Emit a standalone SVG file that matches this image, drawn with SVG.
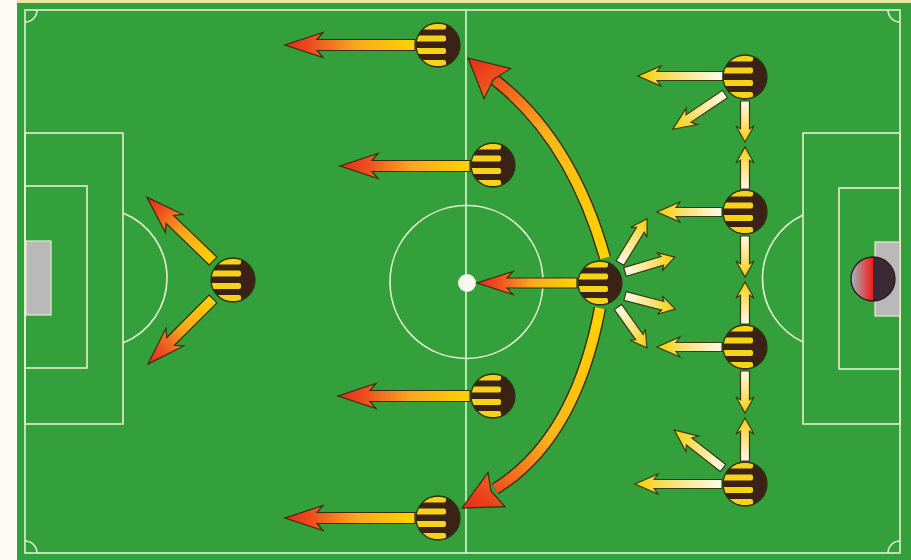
<svg xmlns="http://www.w3.org/2000/svg" xmlns:xlink="http://www.w3.org/1999/xlink" width="911" height="560" viewBox="0 0 911 560">
<style>
.ln{fill:none;stroke:#e6efcf;stroke-width:1.6}
.goal{fill:#b9b9b9;stroke:#e6efcf;stroke-width:1.2}
.ra{fill:url(#gRed);stroke:#3a2a10;stroke-width:1.2;stroke-linejoin:miter}
.ca{fill:url(#gCream);stroke:#3a3a12;stroke-width:1.2;stroke-linejoin:miter}
.sh-o{fill:none;stroke:#3a2a10;stroke-width:12.6}
.hd{stroke:#3a2a10;stroke-width:1.2}
</style>
<defs>
<linearGradient id="gRed" x1="0" y1="0" x2="1" y2="0">
<stop offset="0" stop-color="#ffd400"/>
<stop offset="0.45" stop-color="#f9a81e"/>
<stop offset="0.8" stop-color="#ee4d1f"/>
<stop offset="1" stop-color="#e52a1a"/>
</linearGradient>
<linearGradient id="gCream" x1="0" y1="0" x2="1" y2="0">
<stop offset="0" stop-color="#fffbea"/>
<stop offset="0.55" stop-color="#fae27a"/>
<stop offset="1" stop-color="#f6d000"/>
</linearGradient>
<linearGradient id="gU" gradientUnits="userSpaceOnUse" x1="605" y1="258" x2="468" y2="58">
<stop offset="0" stop-color="#ffd400"/>
<stop offset="0.55" stop-color="#fbb61c"/>
<stop offset="0.85" stop-color="#ef561e"/>
<stop offset="1" stop-color="#e52a1a"/>
</linearGradient>
<linearGradient id="gL" gradientUnits="userSpaceOnUse" x1="600" y1="308" x2="462" y2="508">
<stop offset="0" stop-color="#ffd400"/>
<stop offset="0.55" stop-color="#fbb61c"/>
<stop offset="0.85" stop-color="#ef561e"/>
<stop offset="1" stop-color="#e52a1a"/>
</linearGradient>
<linearGradient id="gk" x1="0" y1="0" x2="1" y2="0">
<stop offset="0" stop-color="#9fb6c8"/>
<stop offset="0.75" stop-color="#e24040"/>
<stop offset="1" stop-color="#e8201c"/>
</linearGradient>
<clipPath id="clipTok"><circle cx="0" cy="0" r="22"/></clipPath>
<g id="tok">
<circle r="22" fill="#3a2316"/>
<g clip-path="url(#clipTok)" fill="#f7d21a">
<rect x="-23" y="-21.5" width="31" height="6" rx="2"/>
<rect x="-23" y="-9.5" width="31" height="6" rx="2"/>
<rect x="-23" y="3" width="31" height="6" rx="2"/>
<rect x="-23" y="15" width="31" height="6" rx="2"/>
</g>
<circle r="22" fill="none" stroke="#2c3510" stroke-width="1.3"/>
</g>
</defs>

<g id="pitch">
<rect x="0" y="0" width="911" height="560" fill="#fdfbf6"/>
<rect x="17" y="0" width="894" height="3" fill="#e9e6a0"/>
<rect x="17" y="3" width="894" height="557" fill="#34a03b"/>
<rect class="ln" x="25" y="10" width="875" height="543"/>
<line class="ln" x1="466" y1="10" x2="466" y2="553"/>
<circle class="ln" cx="466.5" cy="282" r="76.5"/>
<circle cx="467" cy="283" r="9" fill="#f7f7ee"/>
<rect class="ln" x="25" y="133" width="98" height="291"/>
<rect class="ln" x="25" y="186" width="62" height="182"/>
<path class="ln" d="M123,213 A70,70 0 0 1 123,343"/>
<rect class="goal" x="26" y="241" width="25" height="74"/>
<rect class="ln" x="803" y="133" width="97" height="291"/>
<rect class="ln" x="839" y="188" width="61" height="181"/>
<path class="ln" d="M803,215 A70,70 0 0 0 803,342"/>
<rect class="goal" x="875" y="242" width="25" height="74"/>
<path class="ln" d="M37,10 A12,12 0 0 1 25,22"/>
<path class="ln" d="M888,10 A12,12 0 0 0 900,22"/>
<path class="ln" d="M25,541 A12,12 0 0 1 37,553"/>
<path class="ln" d="M900,541 A12,12 0 0 0 888,553"/>
</g>

<g id="connectors">
<!-- red runs -->
<path class="ra" transform="translate(415,45) rotate(180)" d="M0,-5.5H98L92,-12.5L130,0L92,12.5L98,5.5H0Z"/>
<path class="ra" transform="translate(470,166) rotate(180)" d="M0,-5.5H98L92,-12.5L130,0L92,12.5L98,5.5H0Z"/>
<path class="ra" transform="translate(577,283) rotate(180)" d="M0,-5H70L64,-11.5L100,0L64,11.5L70,5H0Z"/>
<path class="ra" transform="translate(470,396) rotate(180)" d="M0,-5.5H100L94,-12.5L132,0L94,12.5L100,5.5H0Z"/>
<path class="ra" transform="translate(415,518) rotate(180)" d="M0,-5.5H98L92,-12.5L130,0L92,12.5L98,5.5H0Z"/>
<path class="ra" transform="translate(213,261) rotate(-136)" d="M0,-5.5H60L54,-12.5L92,0L54,12.5L60,5.5H0Z"/>
<path class="ra" transform="translate(213,299) rotate(135)" d="M0,-5.5H60L54,-12.5L92,0L54,12.5L60,5.5H0Z"/>
<!-- curved runs -->
<path class="sh-o" d="M605,258 Q572,140 495,80"/>
<path fill="none" stroke="url(#gU)" stroke-width="9.8" d="M605,258 Q572,140 495,80"/>
<polygon class="hd" fill="url(#gU)" points="468,58 510.5,68.6 493.4,79.3 484.1,98.6"/>
<path class="sh-o" d="M600,308 Q575,440 495,489"/>
<path fill="none" stroke="url(#gL)" stroke-width="9.8" d="M600,308 Q575,440 495,489"/>
<polygon class="hd" fill="url(#gL)" points="462,508 488,472.6 491,491 505,506.6"/>
<!-- cream fan from midfielder -->
<path class="ca" transform="translate(620,263) rotate(-58.5)" d="M0,-4.5H39L36,-9.5L52,0L36,9.5L39,4.5H0Z"/>
<path class="ca" transform="translate(625,272) rotate(-16.7)" d="M0,-4.5H39L36,-9.5L52,0L36,9.5L39,4.5H0Z"/>
<path class="ca" transform="translate(625,296) rotate(14.6)" d="M0,-4.5H39L36,-9.5L52,0L36,9.5L39,4.5H0Z"/>
<path class="ca" transform="translate(618,307) rotate(54.7)" d="M0,-4.5H37L34,-9.5L50,0L34,9.5L37,4.5H0Z"/>
<!-- right column -->
<path class="ca" transform="translate(723,76) rotate(180)" d="M0,-4.5H66L62,-10L85,0L62,10L66,4.5H0Z"/>
<path class="ca" transform="translate(725,94) rotate(146)" d="M0,-4.5H44L40,-10L63,0L40,10L44,4.5H0Z"/>
<path class="ca" transform="translate(745,101) rotate(90)" d="M0,-4.5H28L25,-9L41,0L25,9L28,4.5H0Z"/>
<path class="ca" transform="translate(745,189) rotate(-90)" d="M0,-4.5H29L26,-9L42,0L26,9L29,4.5H0Z"/>
<path class="ca" transform="translate(722,212) rotate(180)" d="M0,-4.5H46L42,-10L65,0L42,10L46,4.5H0Z"/>
<path class="ca" transform="translate(745,236) rotate(90)" d="M0,-4.5H28L25,-9L41,0L25,9L28,4.5H0Z"/>
<path class="ca" transform="translate(745,324) rotate(-90)" d="M0,-4.5H29L26,-9L42,0L26,9L29,4.5H0Z"/>
<path class="ca" transform="translate(722,347) rotate(180)" d="M0,-4.5H46L42,-10L65,0L42,10L46,4.5H0Z"/>
<path class="ca" transform="translate(745,371) rotate(90)" d="M0,-4.5H29L26,-9L42,0L26,9L29,4.5H0Z"/>
<path class="ca" transform="translate(745,461) rotate(-90)" d="M0,-4.5H30L27,-9L43,0L27,9L30,4.5H0Z"/>
<path class="ca" transform="translate(723,468) rotate(-142)" d="M0,-4.5H43L39,-10L62,0L39,10L43,4.5H0Z"/>
<path class="ca" transform="translate(722,484) rotate(180)" d="M0,-4.5H68L64,-10L87,0L64,10L68,4.5H0Z"/>
</g>

<g id="p-left"><use href="#tok" xlink:href="#tok" transform="translate(233,280)"/></g>
<g id="p-top"><use href="#tok" xlink:href="#tok" transform="translate(438,45)"/></g>
<g id="p-upper"><use href="#tok" xlink:href="#tok" transform="translate(493,165)"/></g>
<g id="p-mid"><use href="#tok" xlink:href="#tok" transform="translate(600,283)"/></g>
<g id="p-lower"><use href="#tok" xlink:href="#tok" transform="translate(493,396)"/></g>
<g id="p-bottom"><use href="#tok" xlink:href="#tok" transform="translate(438,518)"/></g>
<g id="p-r1"><use href="#tok" xlink:href="#tok" transform="translate(745,77)"/></g>
<g id="p-r2"><use href="#tok" xlink:href="#tok" transform="translate(745,212)"/></g>
<g id="p-r3"><use href="#tok" xlink:href="#tok" transform="translate(745,347)"/></g>
<g id="p-r4"><use href="#tok" xlink:href="#tok" transform="translate(745,484)"/></g>
<g id="goalkeeper">
<path d="M873,257 A22,22 0 0 0 873,301 Z" fill="url(#gk)"/>
<path d="M873,257 A22,22 0 0 1 873,301 Z" fill="#3a2a33"/>
<circle cx="873" cy="279" r="22" fill="none" stroke="#2a1a1a" stroke-width="1.3"/>
</g>
</svg>
